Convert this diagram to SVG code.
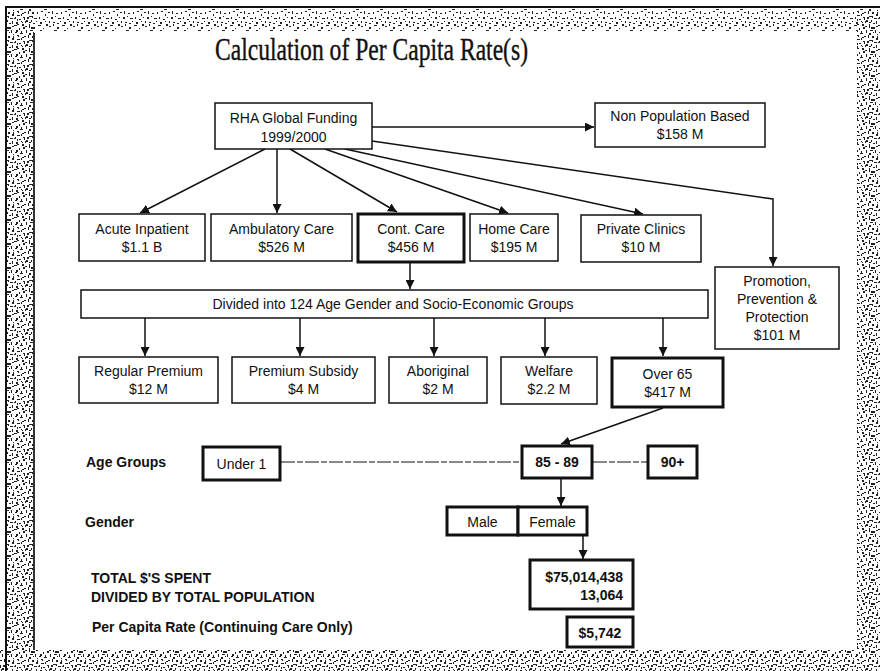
<svg xmlns="http://www.w3.org/2000/svg" width="880" height="671" viewBox="0 0 880 671">
<style>
.box{fill:#fff;stroke:#111;stroke-width:1.5}
.thick{fill:#fff;stroke:#111;stroke-width:3}
.t{font-family:"Liberation Sans",Arial,sans-serif;font-size:14px;fill:#111;text-anchor:middle}
.b{font-family:"Liberation Sans",Arial,sans-serif;font-size:14px;font-weight:bold;fill:#111}
.c{stroke:#111;stroke-width:1.5;fill:none}
.d{stroke:#111;stroke-width:1;fill:none;stroke-dasharray:14 2 6 2}
</style>
<defs>
<marker id="ah" viewBox="0 0 10 10" refX="10" refY="5" markerWidth="9" markerHeight="9" markerUnits="userSpaceOnUse" orient="auto">
<path d="M0,0 L10,5 L0,10 z" fill="#111"/>
</marker>
<pattern id="spk" width="24" height="24" patternUnits="userSpaceOnUse">
<g fill="#222">
<rect x="1" y="2" width="2" height="1"/><rect x="5" y="0" width="1" height="2"/><rect x="9" y="3" width="2" height="2"/><rect x="14" y="1" width="3" height="1"/><rect x="19" y="4" width="1" height="1"/><rect x="22" y="0" width="2" height="2"/><rect x="2" y="7" width="1" height="2"/><rect x="6" y="6" width="3" height="1"/><rect x="11" y="8" width="1" height="1"/><rect x="16" y="6" width="2" height="2"/><rect x="20" y="9" width="3" height="1"/><rect x="0" y="12" width="2" height="1"/><rect x="4" y="11" width="1" height="3"/><rect x="8" y="13" width="2" height="1"/><rect x="13" y="12" width="1" height="2"/><rect x="17" y="11" width="2" height="1"/><rect x="21" y="14" width="1" height="2"/><rect x="3" y="17" width="2" height="2"/><rect x="7" y="16" width="1" height="1"/><rect x="10" y="18" width="3" height="1"/><rect x="15" y="17" width="1" height="2"/><rect x="19" y="19" width="2" height="1"/><rect x="23" y="17" width="1" height="1"/><rect x="1" y="21" width="1" height="2"/><rect x="5" y="22" width="2" height="1"/><rect x="12" y="21" width="1" height="1"/><rect x="16" y="22" width="2" height="2"/><rect x="21" y="21" width="1" height="1"/><rect x="9" y="23" width="2" height="1"/>
</g>
</pattern>
<pattern id="spk2" href="#spk" patternTransform="translate(7 11) rotate(90)"/>
</defs>
<rect x="0" y="0" width="880" height="671" fill="#fff"/>
<g id="frame">
<rect x="6" y="9" width="852" height="22" fill="url(#spk)"/>
<rect x="6" y="9" width="28" height="643" fill="url(#spk)"/>
<rect x="6" y="9" width="28" height="643" fill="url(#spk2)"/>
<rect x="857" y="9" width="23" height="662" fill="url(#spk)"/>
<rect x="857" y="9" width="23" height="662" fill="url(#spk2)"/>
<rect x="0" y="650" width="880" height="21" fill="url(#spk)"/>
<rect x="0" y="650" width="880" height="21" fill="url(#spk2)"/>
<path d="M6,671 V7 H880" stroke="#111" stroke-width="2" fill="none"/>
<path d="M34,650 V33" stroke="#333" stroke-width="2" fill="none"/>
</g>
<text id="title" x="215" y="60" font-family="'Liberation Serif','Times New Roman',serif" font-size="32" fill="#111" stroke="#111" stroke-width="0.4" textLength="313" lengthAdjust="spacingAndGlyphs">Calculation of Per Capita Rate(s)</text>
<g id="connectors">
<line class="c" x1="265" y1="149" x2="140" y2="213" marker-end="url(#ah)"/>
<line class="c" x1="277" y1="149" x2="277" y2="213" marker-end="url(#ah)"/>
<line class="c" x1="290" y1="149" x2="397" y2="212" marker-end="url(#ah)"/>
<line class="c" x1="325" y1="149" x2="508" y2="213" marker-end="url(#ah)"/>
<line class="c" x1="345" y1="149" x2="643" y2="214" marker-end="url(#ah)"/>
<path class="c" d="M372,141 L773,199 L773,266" marker-end="url(#ah)"/>
<line class="c" x1="372" y1="127" x2="594" y2="127" marker-end="url(#ah)"/>
<line class="c" x1="410" y1="263" x2="410" y2="289" marker-end="url(#ah)"/>
<line class="c" x1="145" y1="318" x2="145" y2="356" marker-end="url(#ah)"/>
<line class="c" x1="300" y1="318" x2="300" y2="356" marker-end="url(#ah)"/>
<line class="c" x1="434" y1="318" x2="434" y2="356" marker-end="url(#ah)"/>
<line class="c" x1="545" y1="318" x2="545" y2="356" marker-end="url(#ah)"/>
<line class="c" x1="663" y1="318" x2="663" y2="356" marker-end="url(#ah)"/>
<line class="c" x1="663" y1="408" x2="561" y2="444" marker-end="url(#ah)"/>
<line class="d" x1="281" y1="462" x2="521" y2="462"/>
<line class="d" x1="593" y1="462" x2="647" y2="462"/>
<line class="c" x1="561" y1="479" x2="561" y2="506" marker-end="url(#ah)"/>
<line class="c" x1="583" y1="536" x2="583" y2="559" marker-end="url(#ah)"/>
</g>
<g id="rha"><rect class="box" x="215" y="103" width="157" height="46"/><text class="t" x="293.5" y="123">RHA Global Funding</text><text class="t" x="293.5" y="142">1999/2000</text></g>
<g id="nonpop"><rect class="box" x="595" y="103" width="170" height="44"/><text class="t" x="680" y="121">Non Population Based</text><text class="t" x="680" y="139">$158 M</text></g>
<g id="acute"><rect class="box" x="79" y="214" width="126" height="47"/><text class="t" x="142" y="234">Acute Inpatient</text><text class="t" x="142" y="252">$1.1 B</text></g>
<g id="ambulatory"><rect class="box" x="211" y="214" width="141" height="47"/><text class="t" x="281.5" y="234">Ambulatory Care</text><text class="t" x="281.5" y="252">$526 M</text></g>
<g id="contcare"><rect class="thick" x="358" y="214" width="106" height="48"/><text class="t" x="411" y="234">Cont. Care</text><text class="t" x="411" y="252">$456 M</text></g>
<g id="homecare"><rect class="box" x="470" y="214" width="88" height="47"/><text class="t" x="514" y="234">Home Care</text><text class="t" x="514" y="252">$195 M</text></g>
<g id="private"><rect class="box" x="581" y="215" width="120" height="47"/><text class="t" x="641" y="234">Private Clinics</text><text class="t" x="641" y="252">$10 M</text></g>
<g id="promotion"><rect class="box" x="715" y="267" width="124" height="82"/><text class="t" x="777" y="286">Promotion,</text><text class="t" x="777" y="304">Prevention &amp;</text><text class="t" x="777" y="322">Protection</text><text class="t" x="777" y="340">$101 M</text></g>
<g id="divided"><rect class="box" x="81" y="290" width="627" height="28"/><text class="t" x="393" y="309">Divided into 124 Age Gender and Socio-Economic Groups</text></g>
<g id="regular"><rect class="box" x="79" y="357" width="139" height="46"/><text class="t" x="148.5" y="376">Regular Premium</text><text class="t" x="148.5" y="394">$12 M</text></g>
<g id="subsidy"><rect class="box" x="232" y="357" width="143" height="46"/><text class="t" x="303.5" y="376">Premium Subsidy</text><text class="t" x="303.5" y="394">$4 M</text></g>
<g id="aboriginal"><rect class="box" x="389" y="357" width="98" height="46"/><text class="t" x="438" y="376">Aboriginal</text><text class="t" x="438" y="394">$2 M</text></g>
<g id="welfare"><rect class="box" x="501" y="357" width="96" height="47"/><text class="t" x="549" y="376">Welfare</text><text class="t" x="549" y="394">$2.2 M</text></g>
<g id="over65"><rect class="thick" x="612" y="358" width="111" height="49"/><text class="t" x="667.5" y="379">Over 65</text><text class="t" x="667.5" y="397">$417 M</text></g>
<g id="labels">
<text class="b" x="86" y="467">Age Groups</text>
<text class="b" x="85" y="527">Gender</text>
<text class="b" x="91" y="583">TOTAL $'S SPENT</text>
<text class="b" x="91" y="602">DIVIDED BY TOTAL POPULATION</text>
<text class="b" x="92" y="632">Per Capita Rate (Continuing Care Only)</text>
</g>
<g id="under1"><rect class="thick" x="203" y="447" width="77" height="33"/><text class="t" x="241.5" y="469">Under 1</text></g>
<g id="age8589"><rect class="thick" x="522" y="446" width="70" height="32"/><text class="b" x="557" y="467" text-anchor="middle">85 - 89</text></g>
<g id="age90"><rect class="thick" x="648" y="446" width="49" height="32"/><text class="b" x="672.5" y="467" text-anchor="middle">90+</text></g>
<g id="male"><rect class="thick" x="447" y="507" width="71" height="28"/><text class="t" x="482.5" y="527">Male</text></g>
<g id="female"><rect class="thick" x="518" y="507" width="69" height="28"/><text class="t" x="552.5" y="527">Female</text></g>
<g id="total"><rect class="thick" x="530" y="560" width="103" height="49"/><text class="b" x="623" y="582" text-anchor="end">$75,014,438</text><text class="b" x="623" y="600" text-anchor="end">13,064</text></g>
<g id="percapita"><rect class="thick" x="567" y="617" width="66" height="30"/><text class="b" x="600" y="638" text-anchor="middle">$5,742</text></g>
</svg>
